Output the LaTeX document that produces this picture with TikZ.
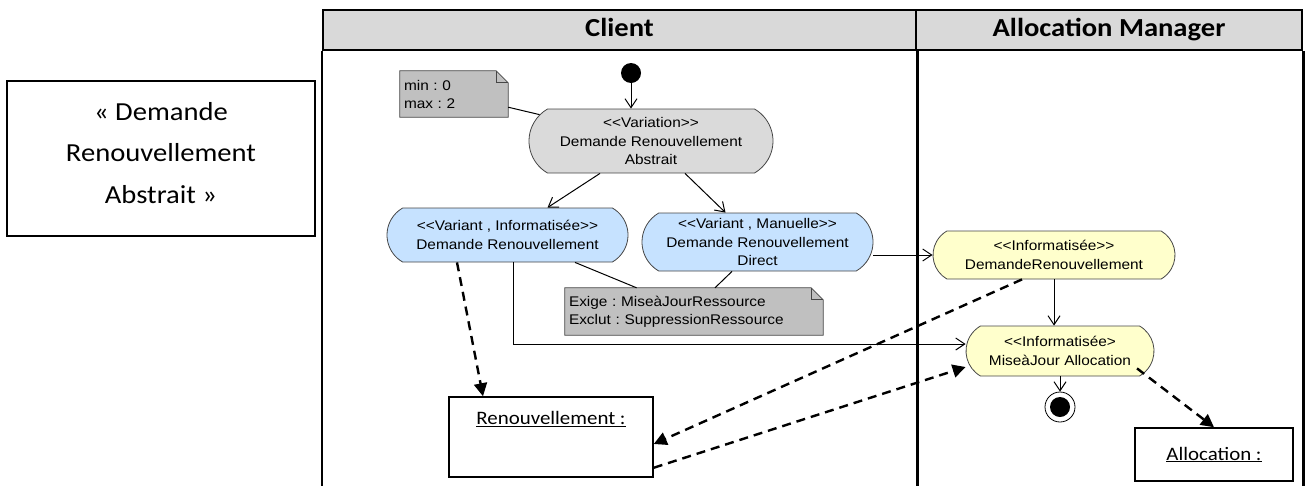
\documentclass[tikz,border=0pt]{standalone}
\usepackage{fontspec}
\usepackage{xcolor}
\newfontfamily\umlfont{Liberation Sans}[FakeStretch=1.1]
\newfontfamily\docfont{Carlito}[FakeStretch=1.1]
\usetikzlibrary{
    arrows.meta,
    shapes.misc,
    backgrounds
}
\definecolor{headgray}{RGB}{217,217,217}
\definecolor{actgray}{RGB}{218,218,218}
\definecolor{notegray}{RGB}{192,192,192}
\definecolor{actblue}{RGB}{198,226,255}
\definecolor{actyellow}{RGB}{255,255,204}
\definecolor{actborder}{RGB}{70,70,70}
\frenchspacing

\begin{document}
\begin{tikzpicture}[
    x=1pt, y=-1pt,
    lanehead/.style={
        rectangle,
        draw=black,
        line width=2.5pt,
        fill=headgray,
        minimum height=40pt,
        text height=18pt,
        text depth=5pt,
        font=\docfont\fontsize{26}{30}\selectfont\bfseries
    },
    laneline/.style={
        draw=black,
        line width=2.5pt
    },
    action/.style={
        rounded rectangle,
        rounded rectangle arc length=120,
        draw=actborder,
        line width=0.8pt,
        align=center,
        inner sep=2pt,
        font=\umlfont\fontsize{14}{18.5}\selectfont
    },
    note/.style={
        rectangle,
        inner sep=4pt,
        align=left,
        font=\umlfont\fontsize{14}{18}\selectfont
    },
    notebody/.style={
        draw=actborder,
        line width=0.8pt,
        fill=notegray
    },
    objbox/.style={
        rectangle,
        draw=black,
        line width=1.5pt,
        fill=white
    },
    objtext/.style={
        font=\docfont\fontsize{19}{23}\selectfont
    },
    flow/.style={
        -{Straight Barb[length=9pt,width=12pt]},
        line width=1pt,
        draw=black
    },
    link/.style={
        line width=1pt,
        draw=black
    },
    objflow/.style={
        -{Triangle[length=13pt,width=13pt]},
        line width=2.4pt,
        dash pattern=on 9pt off 6pt,
        draw=black
    }
]
\useasboundingbox (0,0) rectangle (1305,485);

% =========================================================
% Swimlanes
% =========================================================
\node[lanehead, minimum width=593pt] (clienthead) at (619.5,30) {Client};
\node[lanehead, minimum width=386pt] (mgrhead) at (1109,30) {Allocation Manager};

\draw[laneline] (clienthead.south west) -- ++(0,436);
\draw[laneline] (clienthead.south east) -- ++(0,436);
\draw[laneline] (mgrhead.south east) -- ++(0,436);

% =========================================================
% Left: title box
% =========================================================
\node[objbox, minimum width=308pt, minimum height=155pt] (legend) at (161,158.5) {};
\node[align=center, font=\docfont\fontsize{26}{41.5}\selectfont] (legendtext) at (161,153)
{« Demande\\Renouvellement\\Abstrait »};

% =========================================================
% Client lane
% =========================================================
\node[circle, fill=black, minimum size=20pt, inner sep=0pt] (init) at (631,73) {};

\node[action, fill=actgray, minimum width=248pt, minimum height=64pt] (var) at (651,141)
{<{}<Variation>{}>\\Demande Renouvellement\\Abstrait};

\node[note, text width=100pt, minimum height=46pt] (minmax) at (454,94)
{min : 0\\max : 2};

\node[action, fill=actblue, minimum width=245pt, minimum height=54pt] (varinfo) at (507.5,235)
{<{}<Variant , Informatisée>{}>\\Demande Renouvellement};

\node[action, fill=actblue, minimum width=235pt, minimum height=58pt] (varman) at (757.5,242)
{<{}<Variant , Manuelle>{}>\\Demande Renouvellement\\Direct};

\node[note, text width=250pt, minimum height=47pt] (constraint) at (694,311.5)
{Exige : MiseàJourRessource\\Exclut : SuppressionRessource};

\node[objbox, minimum width=204pt, minimum height=80pt] (renouv) at (551,437) {};
\node[objtext] (renouvlabel) at ([yshift=-23pt]renouv.north) {\underline{Renouvellement :}};

% =========================================================
% Allocation Manager lane
% =========================================================
\node[action, fill=actyellow, minimum width=246pt, minimum height=48pt] (infodem) at (1054,255)
{<{}<Informatisée>{}>\\DemandeRenouvellement};

\node[action, fill=actyellow, minimum width=192pt, minimum height=50pt] (majalloc) at (1060,351)
{<{}<Informatisée>\\MiseàJour Allocation};

\node[circle, draw=black, line width=0.8pt, fill=white, minimum size=30pt, inner sep=0pt] (final) at (1060,407) {};
\fill[black] (final.center) circle (10pt);

\node[objbox, minimum width=158pt, minimum height=53pt] (alloc) at (1214,454.5)
{\docfont\fontsize{19}{23}\selectfont\underline{Allocation :}};

% =========================================================
% Note bodies
% =========================================================
\begin{scope}[on background layer]
\foreach \n in {minmax, constraint} {
    \draw[notebody] (\n.north west) -- ([xshift=-12pt]\n.north east)
        -- ([yshift=-12pt]\n.north east) -- (\n.south east) -- (\n.south west) -- cycle;
    \draw[notebody, fill=none] ([xshift=-12pt]\n.north east) |- ([yshift=-12pt]\n.north east);
}
\end{scope}

% =========================================================
% Control flow
% =========================================================
\draw[flow] (init) -- (init |- var.north);
\draw[flow] ([xshift=-51pt]var.south) -- ([xshift=40pt]varinfo.north);
\draw[flow] ([xshift=34pt]var.south) -- ([xshift=-32pt]varman.north);
\draw[flow] (varman.east |- infodem.west) -- (infodem.west);
\draw[flow] (infodem.south) -- (infodem.south |- majalloc.north);
\draw[flow] ([xshift=5.5pt]varinfo.south) |- ([yshift=7pt]majalloc.west);
\draw[flow] (majalloc.south) -- (final);

\draw[link] ([yshift=10pt]minmax.south east) -- (var);
\draw[link] ([xshift=67.5pt]varinfo.south) -- (constraint);
\draw[link] ([xshift=-25.5pt]varman.south) -- ([xshift=21pt]constraint.north);

% =========================================================
% Object flow
% =========================================================
\draw[objflow] ([xshift=-50.5pt]varinfo.south) -- ([xshift=-68pt]renouv.north);
\draw[objflow] ([xshift=-32pt]infodem.south) -- ([yshift=-7pt]renouv.east);
\draw[objflow] ([yshift=10pt]renouv.south east) -- ([yshift=-16pt]majalloc.west);
\draw[objflow] ([xshift=77pt,yshift=8pt]majalloc.south) -- (alloc.north);

\end{tikzpicture}
\end{document}
